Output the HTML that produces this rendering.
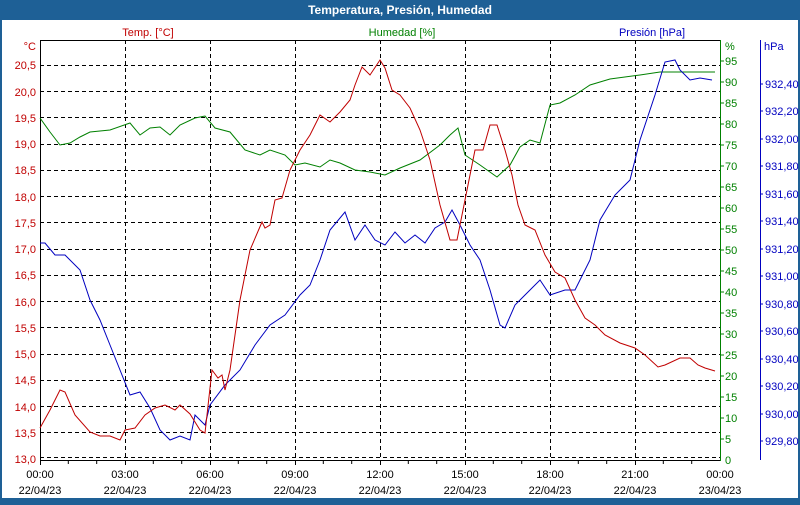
<!DOCTYPE html>
<html><head><meta charset="utf-8"><style>
html,body{margin:0;padding:0;background:#1e6096;}
body{width:800px;height:500px;overflow:hidden;font-family:"Liberation Sans",sans-serif;}
</style></head><body>
<svg width="800" height="500" xmlns="http://www.w3.org/2000/svg" font-family="Liberation Sans, sans-serif" font-size="11">
<rect x="0" y="0" width="800" height="500" fill="#1e6096"/>
<rect x="2" y="20" width="796" height="478" fill="#fff"/>
<text x="400" y="14" fill="#fff" font-weight="bold" text-anchor="middle" font-size="12">Temperatura, Presión, Humedad</text>
<text x="148" y="36" fill="#c00000" text-anchor="middle">Temp. [°C]</text>
<text x="402" y="36" fill="#008000" text-anchor="middle">Humedad [%]</text>
<text x="652" y="36" fill="#0000c0" text-anchor="middle">Presión [hPa]</text>
<g stroke="#000" stroke-dasharray="4,3" stroke-width="1">
<line x1="40" y1="65.5" x2="720" y2="65.5"/><line x1="40" y1="91.5" x2="720" y2="91.5"/>
<line x1="40" y1="117.5" x2="720" y2="117.5"/><line x1="40" y1="144.5" x2="720" y2="144.5"/>
<line x1="40" y1="170.5" x2="720" y2="170.5"/><line x1="40" y1="196.5" x2="720" y2="196.5"/>
<line x1="40" y1="222.5" x2="720" y2="222.5"/><line x1="40" y1="249.5" x2="720" y2="249.5"/>
<line x1="40" y1="275.5" x2="720" y2="275.5"/><line x1="40" y1="301.5" x2="720" y2="301.5"/>
<line x1="40" y1="327.5" x2="720" y2="327.5"/><line x1="40" y1="354.5" x2="720" y2="354.5"/>
<line x1="40" y1="380.5" x2="720" y2="380.5"/><line x1="40" y1="406.5" x2="720" y2="406.5"/>
<line x1="40" y1="432.5" x2="720" y2="432.5"/><line x1="40" y1="457.5" x2="720" y2="457.5"/>
<line x1="125.5" y1="40" x2="125.5" y2="460"/><line x1="210.5" y1="40" x2="210.5" y2="460"/>
<line x1="295.5" y1="40" x2="295.5" y2="460"/><line x1="380.5" y1="40" x2="380.5" y2="460"/>
<line x1="465.5" y1="40" x2="465.5" y2="460"/><line x1="550.5" y1="40" x2="550.5" y2="460"/>
<line x1="635.5" y1="40" x2="635.5" y2="460"/>
</g>
<line x1="40" y1="40.5" x2="720" y2="40.5" stroke="#000"/>
<line x1="40.5" y1="40" x2="40.5" y2="460" stroke="#000"/>
<line x1="40" y1="460.5" x2="720" y2="460.5" stroke="#000"/>
<line x1="720.5" y1="40" x2="720.5" y2="461" stroke="#008000"/>
<line x1="760.5" y1="40" x2="760.5" y2="460" stroke="#0000c0"/>
<g stroke="#000">
<path d="M68.3,460v4M96.7,460v4M125.5,460v5M153.3,460v4M181.7,460v4M210.5,460v5M238.3,460v4M266.7,460v4M295.5,460v5M323.3,460v4M351.7,460v4M380.5,460v5M408.3,460v4M436.7,460v4M465.5,460v5M493.3,460v4M521.7,460v4M550.5,460v5M578.3,460v4M606.7,460v4M635.5,460v5M663.3,460v4M691.7,460v4M40.5,460v5"/>
</g>
<g fill="#c00000" text-anchor="end">
<text x="36" y="50">°C</text>
<text x="36" y="69">20,5</text><text x="36" y="96">20,0</text><text x="36" y="122">19,5</text>
<text x="36" y="148">19,0</text><text x="36" y="174">18,5</text><text x="36" y="201">18,0</text>
<text x="36" y="227">17,5</text><text x="36" y="253">17,0</text><text x="36" y="279">16,5</text>
<text x="36" y="306">16,0</text><text x="36" y="332">15,5</text><text x="36" y="358">15,0</text>
<text x="36" y="384">14,5</text><text x="36" y="411">14,0</text><text x="36" y="437">13,5</text>
<text x="36" y="463">13,0</text>
</g>
<g fill="#008000" stroke="#008000">
<path d="M720,61h4M720,82h4M720,103h4M720,124h4M720,145h4M720,166h4M720,187h4M720,208h4M720,229h4M720,250h4M720,271h4M720,292h4M720,313h4M720,334h4M720,355h4M720,376h4M720,397h4M720,418h4M720,439h4"/>
</g>
<g fill="#008000">
<text x="725" y="50">%</text>
<text x="725" y="65">95</text><text x="725" y="86">90</text><text x="725" y="107">85</text>
<text x="725" y="128">80</text><text x="725" y="149">75</text><text x="725" y="170">70</text>
<text x="725" y="191">65</text><text x="725" y="212">60</text><text x="725" y="233">55</text>
<text x="725" y="254">50</text><text x="725" y="275">45</text><text x="725" y="296">40</text>
<text x="725" y="317">35</text><text x="725" y="338">30</text><text x="725" y="359">25</text>
<text x="725" y="380">20</text><text x="725" y="401">15</text><text x="725" y="422">10</text>
<text x="725" y="443">5</text><text x="725" y="464">0</text>
</g>
<g stroke="#0000c0">
<path d="M760,84h3M760,111h3M760,139h3M760,166h3M760,194h3M760,221h3M760,249h3M760,276h3M760,304h3M760,331h3M760,359h3M760,386h3M760,414h3M760,441h3"/>
</g>
<g fill="#0000c0">
<text x="764" y="50">hPa</text>
<text x="765" y="88">932,40</text><text x="765" y="115">932,20</text><text x="765" y="143">932,00</text>
<text x="765" y="170">931,80</text><text x="765" y="198">931,60</text><text x="765" y="225">931,40</text>
<text x="765" y="253">931,20</text><text x="765" y="280">931,00</text><text x="765" y="308">930,80</text>
<text x="765" y="335">930,60</text><text x="765" y="363">930,40</text><text x="765" y="390">930,20</text>
<text x="765" y="418">930,00</text><text x="765" y="445">929,80</text>
</g>
<g fill="#000" text-anchor="middle">
<text x="40" y="478">00:00</text><text x="40" y="494">22/04/23</text>
<text x="125" y="478">03:00</text><text x="125" y="494">22/04/23</text>
<text x="210" y="478">06:00</text><text x="210" y="494">22/04/23</text>
<text x="295" y="478">09:00</text><text x="295" y="494">22/04/23</text>
<text x="380" y="478">12:00</text><text x="380" y="494">22/04/23</text>
<text x="465" y="478">15:00</text><text x="465" y="494">22/04/23</text>
<text x="550" y="478">18:00</text><text x="550" y="494">22/04/23</text>
<text x="635" y="478">21:00</text><text x="635" y="494">22/04/23</text>
<text x="720" y="478">00:00</text><text x="720" y="494">23/04/23</text>
</g>
<polyline fill="none" stroke="#008000" points="40,118 50,132 60,145 70,143 80,137 90,132 110,130 130,123 140,135 150,128 160,127 170,135 180,125 195,118 205,116 215,128 230,132 245,150 260,155 270,150 285,155 295,165 305,163 320,167 330,160 340,163 355,170 370,172 385,175 400,168 420,160 440,145 450,135 458,128 465,155 480,165 497,177 510,165 520,147 530,140 540,143 550,105 560,103 575,95 590,85 610,79 640,75 660,72 715,72"/>
<polyline fill="none" stroke="#0000c0" points="40,243 45,243 55,255 65,255 80,270 90,300 100,320 110,345 120,370 130,395 140,392 150,408 160,430 170,440 180,436 190,440 195,415 205,425 210,405 225,385 240,370 255,345 270,325 285,315 300,295 310,285 320,260 330,230 345,212 355,240 365,225 375,240 385,245 395,232 405,243 415,235 425,243 435,228 445,222 452,210 460,225 470,245 480,260 490,290 500,325 505,328 515,305 525,295 540,280 550,295 565,290 575,290 590,260 600,220 615,195 625,185 630,180 640,140 655,95 665,62 675,60 680,70 690,80 700,78 712,80"/>
<polyline fill="none" stroke="#c00000" points="40,428 50,410 60,390 65,392 75,415 90,432 100,436 110,436 120,440 125,430 135,428 145,415 155,408 165,405 175,410 180,405 190,414 200,430 205,433 212,370 218,378 222,375 225,390 230,370 240,300 250,250 262,222 265,228 270,225 275,200 282,198 290,170 300,150 310,135 320,115 330,122 340,112 350,100 355,85 362,67 370,75 380,60 385,68 392,90 400,95 410,108 420,130 430,160 440,205 450,240 457,240 465,200 475,150 483,150 490,125 497,125 505,150 512,175 518,205 525,225 535,230 545,255 555,272 565,278 575,300 585,318 595,325 605,335 620,343 635,348 645,355 658,367 665,365 680,358 690,358 698,365 705,368 715,371"/>
</svg>
</body></html>
